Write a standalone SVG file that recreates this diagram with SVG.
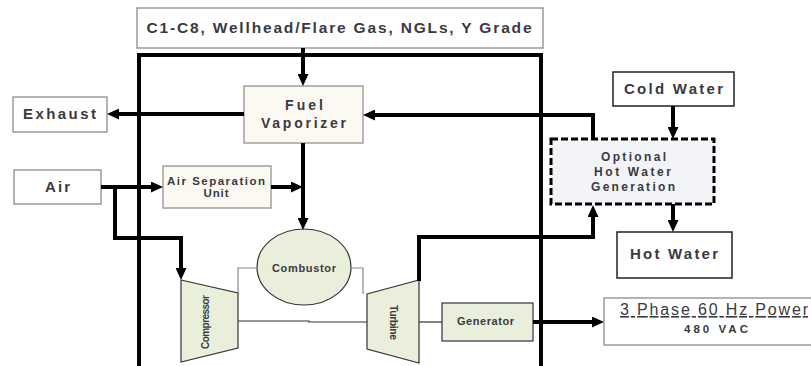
<svg xmlns="http://www.w3.org/2000/svg" width="811" height="366" viewBox="0 0 811 366">
<defs>
<style>
.t{font-family:"Liberation Sans",Arial,sans-serif;font-weight:bold;fill:#3a3a40;text-anchor:middle}
.gbox{fill:#ffffff;stroke:#9a9a9a;stroke-width:1.5}
.cream{fill:#fbf9f1;stroke:#a0a0a0;stroke-width:1.5}
.green{fill:#e9efdb;stroke:#333333;stroke-width:1.2}
.wbox{fill:#ffffff;stroke:#222222;stroke-width:1.5}
.flow{fill:none;stroke:#000;stroke-width:4;stroke-linejoin:miter}
.thin{fill:none;stroke:#333;stroke-width:1.2}
.gray{fill:none;stroke:#8a8a8a;stroke-width:1.2}
</style>
<marker id="ah" markerUnits="userSpaceOnUse" markerWidth="12" markerHeight="11" refX="0" refY="5.5" orient="auto">
<path d="M0,0 L12,5.5 L0,11 z" fill="#000"/>
</marker>
</defs>

<rect x="0" y="0" width="811" height="366" fill="#ffffff"/>

<!-- frame -->
<rect id="frame" x="139" y="55" width="402" height="330" fill="none" stroke="#000" stroke-width="4"/>

<g id="feed">
<rect class="gbox" x="137" y="8" width="406" height="40"/>
<text class="t" x="339" y="33" font-size="15.5" textLength="385" lengthAdjust="spacing">C1-C8, Wellhead/Flare Gas, NGLs, Y Grade</text>
</g>

<g id="exhaust">
<rect class="gbox" x="13" y="97" width="94" height="35"/>
<text class="t" x="59.5" y="119" font-size="15" textLength="73" lengthAdjust="spacing">Exhaust</text>
</g>

<g id="air">
<rect class="gbox" x="14" y="170" width="87" height="34"/>
<text class="t" x="57.5" y="192" font-size="15" textLength="25" lengthAdjust="spacing">Air</text>
</g>

<g id="fuel-vaporizer">
<rect class="cream" x="244" y="86" width="119" height="57"/>
<text class="t" x="304" y="110" font-size="14" textLength="38" lengthAdjust="spacing">Fuel</text>
<text class="t" x="303.5" y="128" font-size="14" textLength="85" lengthAdjust="spacing">Vaporizer</text>
</g>

<g id="air-separation-unit">
<rect class="cream" x="163" y="166" width="108" height="42"/>
<text class="t" x="216" y="185" font-size="11.5" textLength="98" lengthAdjust="spacing">Air Separation</text>
<text class="t" x="216" y="197" font-size="11.5" textLength="25" lengthAdjust="spacing">Unit</text>
</g>

<g id="combustor">
<ellipse class="green" cx="304" cy="267" rx="47" ry="38"/>
<text class="t" x="304" y="272" font-size="11" textLength="64" lengthAdjust="spacing">Combustor</text>
</g>

<g id="compressor">
<polygon class="green" points="181,280 238,293 238,348 181,362"/>
<text class="t" transform="translate(209,322) rotate(-90)" x="0" y="0" font-size="10" textLength="54" lengthAdjust="spacing">Compressor</text>
</g>

<g id="turbine">
<polygon class="green" points="367,294 419,280 419,363 367,349"/>
<text class="t" transform="translate(390,322.5) rotate(90)" x="0" y="0" font-size="10.5" textLength="35" lengthAdjust="spacing">Turbine</text>
</g>

<g id="generator">
<rect class="green" x="442" y="303" width="91" height="38"/>
<text class="t" x="485.5" y="325" font-size="11" textLength="57" lengthAdjust="spacing">Generator</text>
</g>

<g id="power">
<rect class="gbox" x="604" y="298" width="230" height="47"/>
<text class="t" x="714" y="315" font-size="16" textLength="188" lengthAdjust="spacing" text-decoration="underline" style="font-weight:normal">3 Phase 60 Hz Power</text>
<text class="t" x="716" y="333" font-size="11.5" textLength="64" lengthAdjust="spacing">480 VAC</text>
</g>

<g id="cold-water">
<rect class="wbox" x="613" y="72" width="121" height="34"/>
<text class="t" x="673.5" y="94" font-size="15" textLength="99" lengthAdjust="spacing">Cold Water</text>
</g>

<g id="hot-water-generation">
<rect x="551" y="139" width="163" height="65" fill="#f3f4f7" stroke="#000" stroke-width="3" stroke-dasharray="7,3"/>
<text class="t" x="633.5" y="161" font-size="12" textLength="65" lengthAdjust="spacing">Optional</text>
<text class="t" x="632.5" y="176" font-size="12" textLength="77" lengthAdjust="spacing">Hot Water</text>
<text class="t" x="633" y="191" font-size="12" textLength="84" lengthAdjust="spacing">Generation</text>
</g>

<g id="hot-water">
<rect class="wbox" x="617" y="232" width="115" height="46"/>
<text class="t" x="674" y="259" font-size="15" textLength="88" lengthAdjust="spacing">Hot Water</text>
</g>

<g id="connectors">
<path class="flow" d="M303,48 V74" marker-end="url(#ah)"/>
<path class="flow" d="M244,114 H119" marker-end="url(#ah)"/>
<path class="flow" d="M593,139 V115 H375" marker-end="url(#ah)"/>
<path class="flow" d="M101,187 H151" marker-end="url(#ah)"/>
<path class="flow" d="M271,187 H291" marker-end="url(#ah)"/>
<path class="flow" d="M303,143 V218" marker-end="url(#ah)"/>
<path class="flow" d="M115,187 V238 H181 V268" marker-end="url(#ah)"/>
<path class="flow" d="M419,281 V237 H593 V217" marker-end="url(#ah)"/>
<path class="flow" d="M673,106 V127" marker-end="url(#ah)"/>
<path class="flow" d="M673,204 V220" marker-end="url(#ah)"/>
<path class="flow" d="M533,322 H592" marker-end="url(#ah)"/>
<path class="gray" d="M238,293 V268 H257"/>
<path class="gray" d="M351,268 H363 V294"/>
<path class="thin" d="M238,321 H309 V322 H367"/>
<path class="thin" d="M419,322 H442"/>
</g>
</svg>
